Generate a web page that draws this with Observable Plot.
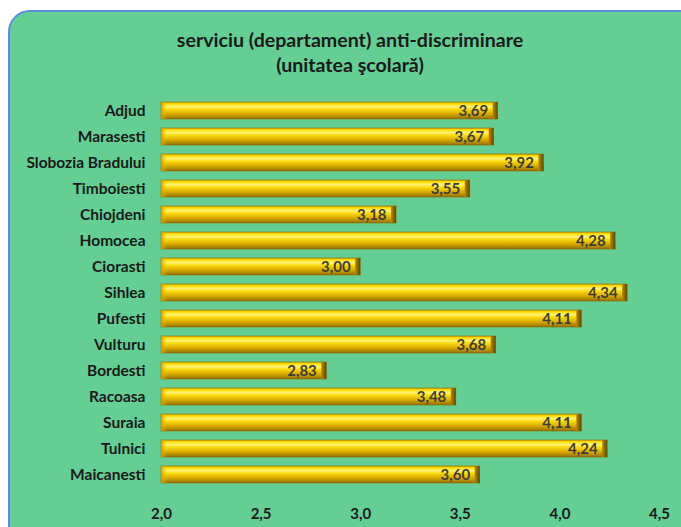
<!DOCTYPE html>
<html>
<head>
<meta charset="utf-8">
<script src="https://cdn.jsdelivr.net/npm/d3@7"></script>
<script src="https://cdn.jsdelivr.net/npm/@observablehq/plot@0.6"></script>
<style>
  html, body { margin: 0; padding: 0; background: #ffffff; overflow: hidden; }
  #wrap { position: relative; width: 681px; height: 527px; overflow: hidden; font-family: Lato, "Open Sans", sans-serif; }
  #panel { position: absolute; left: 8px; top: 10px; width: 700px; height: 540px; background: #65CE95; border: 2px solid #5A8ED8; border-radius: 22px; box-sizing: border-box; }
  #title { position: absolute; left: 0; top: 27px; width: 700px; text-align: center; font-weight: bold; font-size: 19.6px; line-height: 25px; color: #1a1a1a; }
  #chart { position: absolute; left: 0; top: 0; }
</style>
</head>
<body>
<div id="wrap">
  <div id="panel"></div>
  <div id="title">serviciu (departament) anti-discriminare<br>(unitatea şcolară)</div>
  <div id="chart"></div>
</div>
<script>
const categories = ["Adjud","Marasesti","Slobozia Bradului","Timboiesti","Chiojdeni","Homocea","Ciorasti","Sihlea","Pufesti","Vulturu","Bordesti","Racoasa","Suraia","Tulnici","Maicanesti"];
const values = [3.69,3.67,3.92,3.55,3.18,4.28,3.00,4.34,4.11,3.68,2.83,3.48,4.11,4.24,3.60];
const xTicks = [2.0,2.5,3.0,3.5,4.0,4.5];

const data = categories.map((c,i) => ({cat: c, value: values[i]}));
const fmt = v => v.toFixed(2).replace(".", ",");
const fmtTick = v => v.toFixed(1).replace(".", ",");

const plot = Plot.plot({
  width: 681,
  height: 527,
  marginLeft: 161,
  marginRight: 22,
  marginTop: 91,
  marginBottom: 32,
  style: {background: "transparent", fontFamily: "Lato, 'Open Sans', sans-serif", fontWeight: "bold", fontSize: "15px", color: "#1a1a1a"},
  x: {domain: [2, 4.5], ticks: xTicks, tickFormat: fmtTick},
  y: {domain: categories, padding: 0.33},
  marks: [
    Plot.barX(data, {y: "cat", x1: 2, x2: "value", fill: "url(#goldV)", stroke: "#8a6a00", strokeWidth: 0.6}),
    Plot.barX(data, {y: "cat", x1: 2, x2: 2, insetRight: -6, fill: "url(#capL)"}),
    Plot.barX(data, {y: "cat", x1: "value", x2: "value", insetLeft: -5, fill: "url(#capR)"}),
    Plot.text(data, {y: "cat", x: "value", text: d => fmt(d.value), textAnchor: "end", dx: -10, fill: "#3d3d3d", fontWeight: "bold", fontSize: 15}),
    Plot.axisX({ticks: xTicks, tickFormat: fmtTick, tickSize: 0, tickPadding: 13, label: null, fontWeight: "bold", fontSize: 15}),
    Plot.axisY({tickSize: 0, tickPadding: 16, label: null, fontWeight: "bold", fontSize: 15.5})
  ]
});

const svg = d3.select(plot);
const defs = svg.insert("defs", ":first-child");
const g1 = defs.append("linearGradient").attr("id","goldV").attr("x1",0).attr("y1",0).attr("x2",0).attr("y2",1);
[["0%","#D0A500"],["10%","#FFDC00"],["28%","#FFF27A"],["42%","#FFDC10"],["70%","#D8AA00"],["100%","#927008"]]
  .forEach(([o,c]) => g1.append("stop").attr("offset",o).attr("stop-color",c));
const g2 = defs.append("linearGradient").attr("id","capR").attr("x1",0).attr("y1",0).attr("x2",1).attr("y2",0);
[["0%","#B58A00"],["100%","#5E4800"]].forEach(([o,c]) => g2.append("stop").attr("offset",o).attr("stop-color",c));
const g3 = defs.append("linearGradient").attr("id","capL").attr("x1",0).attr("y1",0).attr("x2",1).attr("y2",0);
[["0%","#C89A00"],["100%","#F2C800"]].forEach(([o,c]) => g3.append("stop").attr("offset",o).attr("stop-color",c).attr("stop-opacity", o==="0%"?0.9:0.0));

document.getElementById("chart").appendChild(plot);
</script>
</body>
</html>
